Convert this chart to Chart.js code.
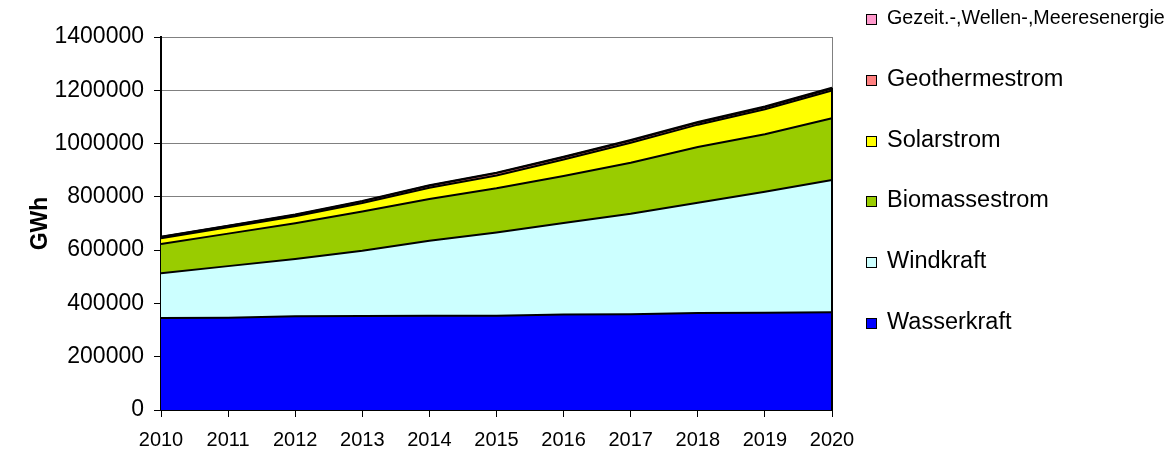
<!DOCTYPE html>
<html>
<head>
<meta charset="utf-8">
<script src="https://cdn.jsdelivr.net/npm/chart.js@4.4.0/dist/chart.umd.min.js"></script>
<style>
    html, body { margin: 0; padding: 0; background: #fff; }
    #wrap { position: relative; width: 1174px; height: 458px; overflow: hidden; }
    #stats { position: absolute; left: 0; top: 0; }
    #legend { position: absolute; left: 866px; top: 0; font-family: "Liberation Sans", Arial, sans-serif; color: #000; }
    .item { position: absolute; left: 0; height: 30px; display: flex; align-items: center; white-space: nowrap; }
    .box { width: 9px; height: 9px; border: 1.5px solid #000; margin-right: 10px; margin-top: 4px; flex: none; }
</style>
</head>
<body>
<div id="wrap">
    <canvas id="stats" width="1174" height="458"></canvas>
    <div id="legend"></div>
</div>
<script>
const years = ['2010', '2011', '2012', '2013', '2014', '2015', '2016', '2017', '2018', '2019', '2020'];
const wasserkraft = [345000, 346000, 352000, 353000, 354000, 354000, 358000, 359000, 364000, 365000, 367000];
const windkraft = [168000, 194000, 215000, 245000, 281000, 312000, 344000, 378000, 414000, 454000, 496000];
const biomassestrom = [110000, 122000, 134000, 147000, 157000, 166000, 176000, 191000, 209000, 216000, 232000];
const solarstrom = [22000, 24000, 26000, 32000, 42000, 48000, 62000, 75000, 84000, 94000, 104000];
const geothermestrom = [4000, 4500, 5000, 6000, 8000, 9000, 9000, 8000, 7500, 7500, 8000];
const meeresenergie = [1500, 1500, 1600, 1700, 1800, 1900, 2000, 2200, 2400, 2600, 2800];

const seriesNames = ['Wasserkraft', 'Windkraft', 'Biomassestrom', 'Solarstrom', 'Geothermestrom', 'Gezeit.-,Wellen-,Meeresenergie'];
const seriesColors = ['#0000FF', '#CCFFFF', '#99CC00', '#FFFF00', '#FF8080', '#FF99CC'];
const seriesData = [wasserkraft, windkraft, biomassestrom, solarstrom, geothermestrom, meeresenergie];
const yMax = 1400000;
const yStep = 200000;
const yTitle = 'GWh';

const FONT = '"Liberation Sans", Arial, sans-serif';

// grauer Rahmen rechts, schwarze Kante rechts an der Fläche
const framePlugin = {
    id: 'frame',
    beforeDatasetsDraw(chart) {
        const a = chart.chartArea, ctx = chart.ctx;
        ctx.save();
        ctx.strokeStyle = '#808080';
        ctx.lineWidth = 1;
        ctx.beginPath();
        ctx.moveTo(Math.round(a.right) + 0.5, a.top);
        ctx.lineTo(Math.round(a.right) + 0.5, a.bottom);
        ctx.stroke();
        ctx.restore();
    },
    afterDatasetsDraw(chart) {
        const a = chart.chartArea, ctx = chart.ctx;
        const meta = chart.getDatasetMeta(chart.data.datasets.length - 1);
        const last = meta.data[meta.data.length - 1];
        ctx.save();
        ctx.strokeStyle = '#000';
        ctx.lineWidth = 2;
        ctx.beginPath();
        ctx.moveTo(a.right, last.y);
        ctx.lineTo(a.right, a.bottom);
        ctx.stroke();
        ctx.restore();
    }
};

window.addEventListener('load', function() {
    const datasets = seriesData.map((d, i) => ({
        label: seriesNames[i],
        data: d,
        backgroundColor: seriesColors[i],
        borderColor: '#000',
        borderWidth: 2,
        fill: i == 0 ? 'origin' : '-1',
        pointRadius: 0,
        tension: 0
    }));

    const chart = new Chart(document.getElementById('stats'), {
        type: 'line',
        data: { labels: years, datasets: datasets },
        options: {
            responsive: false,
            animation: false,
            devicePixelRatio: 1,
            layout: { padding: { left: 0, right: 342, top: 37, bottom: 0 } },
            plugins: {
                legend: { display: false },
                tooltip: { enabled: false }
            },
            scales: {
                x: {
                    type: 'category',
                    offset: false,
                    grid: { drawOnChartArea: false, drawTicks: true, tickLength: 7, tickColor: '#000', tickWidth: 1 },
                    border: { color: '#000', width: 2 },
                    ticks: { color: '#000', font: { family: FONT, size: 20 }, padding: 11, maxRotation: 0, autoSkip: false },
                    afterFit(scale) { scale.height = 48; }
                },
                y: {
                    stacked: true,
                    min: 0,
                    max: yMax,
                    ticks: {
                        stepSize: yStep,
                        color: '#000',
                        font: { family: FONT, size: 23 },
                        padding: 10,
                        callback: v => String(v)
                    },
                    grid: { color: '#808080', lineWidth: 1, tickLength: 7, tickColor: '#000' },
                    border: { color: '#000', width: 2 },
                    title: {
                        display: true,
                        text: yTitle,
                        color: '#000',
                        font: { family: FONT, size: 23, weight: 'bold' },
                        padding: { top: 27, bottom: 0 }
                    },
                    afterFit(scale) { scale.width = 161; }
                }
            }
        },
        plugins: [framePlugin]
    });

    // Legende rechts, oberste Serie zuerst
    const legend = document.getElementById('legend');
    const measure = document.createElement('canvas').getContext('2d');
    const maxWidth = 1174 - 888 - 8;
    chart.data.datasets.slice().reverse().forEach((ds, i) => {
        let size = 23.5;
        measure.font = size + 'px ' + FONT;
        const w = measure.measureText(ds.label).width;
        if (w > maxWidth) size = size * maxWidth / w;
        const item = document.createElement('div');
        item.className = 'item';
        item.style.top = (17.5 + i * 60.8 - 15) + 'px';
        const box = document.createElement('span');
        box.className = 'box';
        box.style.background = ds.backgroundColor;
        const txt = document.createElement('span');
        txt.textContent = ds.label;
        txt.style.fontSize = size + 'px';
        item.appendChild(box);
        item.appendChild(txt);
        legend.appendChild(item);
    });
});
</script>
</body>
</html>
